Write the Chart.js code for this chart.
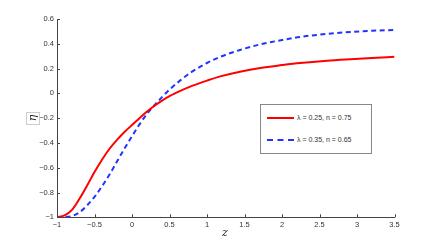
<!DOCTYPE html>
<html>
<head>
<meta charset="utf-8">
<script src="https://cdn.jsdelivr.net/npm/chart.js@4.4.1/dist/chart.umd.min.js"></script>
<style>
  body { margin: 0; background: #fff; overflow: hidden; }
  #wrap { position: relative; width: 436px; height: 245px; }
  .axlab { position: absolute; font-family: "DejaVu Serif", "Liberation Serif", serif; font-style: italic; color: #222; }
  #ylab { left: 26px; top: 112px; width: 12px; height: 11px; border: 1px solid #ccc; font-size: 11px; line-height: 10px; text-align: center; }
  #ylab span { display: inline-block; transform: rotate(-90deg); }
  #xlab { left: 222px; top: 226px; font-size: 11px; }
  #legend { position: absolute; left: 260px; top: 104px; width: 110px; height: 48px; border: 1px solid #888; background: #fff;
            font-family: "Liberation Sans", Arial, sans-serif; font-size: 7px; color: #333; }
  .entry { position: absolute; left: 6px; height: 10px; line-height: 10px; white-space: nowrap; }
  .sample { display: inline-block; width: 27px; vertical-align: middle; margin-right: 3px; }
</style>
</head>
<body>
<div id="wrap">
  <canvas id="chart" width="436" height="245"></canvas>
  <div id="ylab" class="axlab"><span>η</span></div>
  <div id="xlab" class="axlab">z</div>
  <div id="legend">
    <div class="entry" style="top:8px"><span class="sample" style="border-top:2px solid #ff0000"></span>λ = 0.25, n = 0.75</div>
    <div class="entry" style="top:30px"><span class="sample" style="border-top:2px dashed #2233ff"></span>λ = 0.35, n = 0.65</div>
  </div>
</div>
<script>
// --- DATA ---
const zRed   = [-1, -0.9, -0.8, -0.7, -0.6, -0.5, -0.4, -0.3, -0.2, -0.1, 0, 0.1, 0.2, 0.3, 0.4, 0.5, 0.644, 0.8, 1.0, 1.177, 1.44, 1.71, 2.0, 2.24, 2.6, 2.91, 3.2, 3.5];
const etaRed = [-1, -0.985, -0.94, -0.85, -0.745, -0.635, -0.535, -0.447, -0.375, -0.312, -0.255, -0.2, -0.147, -0.1, -0.058, -0.022, 0.02, 0.06, 0.103, 0.137, 0.175, 0.205, 0.228, 0.245, 0.264, 0.276, 0.286, 0.295];

const zBlue   = [-1, -0.9, -0.8, -0.7, -0.6, -0.5, -0.4, -0.3, -0.2, -0.1, 0, 0.1, 0.2, 0.3, 0.4, 0.5, 0.644, 0.8, 1.0, 1.177, 1.44, 1.71, 2.0, 2.24, 2.6, 2.91, 3.2, 3.5];
const etaBlue = [-1, -0.997, -0.99, -0.96, -0.905, -0.835, -0.75, -0.655, -0.55, -0.445, -0.345, -0.25, -0.165, -0.095, -0.03, 0.03, 0.105, 0.175, 0.245, 0.295, 0.35, 0.395, 0.43, 0.455, 0.48, 0.495, 0.505, 0.512];

const labelRed = 'λ = 0.25, n = 0.75';
const labelBlue = 'λ = 0.35, n = 0.65';

const xMin = -1, xMax = 3.5, xStep = 0.5;
const yMin = -1, yMax = 0.6, yStep = 0.2;

function pts(xs, ys) { return xs.map((x, i) => ({ x: x, y: ys[i] })); }
function fmt(v) { let r = Math.round(v * 10) / 10; return (r < 0 ? '\u2212' : '') + Math.abs(r); }

// --- INWARD TICKS (matlab style) ---
const inwardTicks = {
    id: 'inwardTicks',
    afterDraw(chart) {
        let ctx = chart.ctx, xs = chart.scales.x, ys = chart.scales.y, a = chart.chartArea;
        ctx.save();
        ctx.strokeStyle = '#444'; ctx.lineWidth = 1;
        ctx.beginPath();
        xs.ticks.forEach(t => { let p = Math.round(xs.getPixelForValue(t.value)) + 0.5; ctx.moveTo(p, a.bottom); ctx.lineTo(p, a.bottom - 3); });
        ys.ticks.forEach(t => { let p = Math.round(ys.getPixelForValue(t.value)) + 0.5; ctx.moveTo(a.left, p); ctx.lineTo(a.left + 3, p); });
        ctx.stroke();
        ctx.restore();
    }
};

const tickFont = { family: "'Liberation Sans', Arial, sans-serif", size: 7.5 };

new Chart(document.getElementById('chart'), {
    type: 'line',
    data: {
        datasets: [
            { label: labelRed, data: pts(zRed, etaRed), borderColor: '#ff0000', borderWidth: 2, pointRadius: 0, cubicInterpolationMode: 'monotone' },
            { label: labelBlue, data: pts(zBlue, etaBlue), borderColor: '#2233ff', borderWidth: 2, borderDash: [5, 3.5], pointRadius: 0, cubicInterpolationMode: 'monotone' }
        ]
    },
    options: {
        responsive: false, animation: false,
        layout: { padding: { top: 19, right: 41.5, left: 0, bottom: 0 } },
        plugins: { legend: { display: false }, tooltip: { enabled: false } },
        scales: {
            x: {
                type: 'linear', min: xMin, max: xMax,
                afterFit: s => { s.height = 27.7; },
                ticks: { stepSize: xStep, font: tickFont, color: '#333', padding: 3, maxRotation: 0, callback: v => fmt(v) },
                grid: { drawOnChartArea: false, drawTicks: false },
                border: { color: '#444', width: 1 }
            },
            y: {
                type: 'linear', min: yMin, max: yMax,
                afterFit: s => { s.width = 57; },
                ticks: { stepSize: yStep, font: tickFont, color: '#333', padding: 3, callback: v => fmt(v) },
                grid: { drawOnChartArea: false, drawTicks: false },
                border: { color: '#444', width: 1 }
            }
        }
    },
    plugins: [inwardTicks]
});
</script>
</body>
</html>
